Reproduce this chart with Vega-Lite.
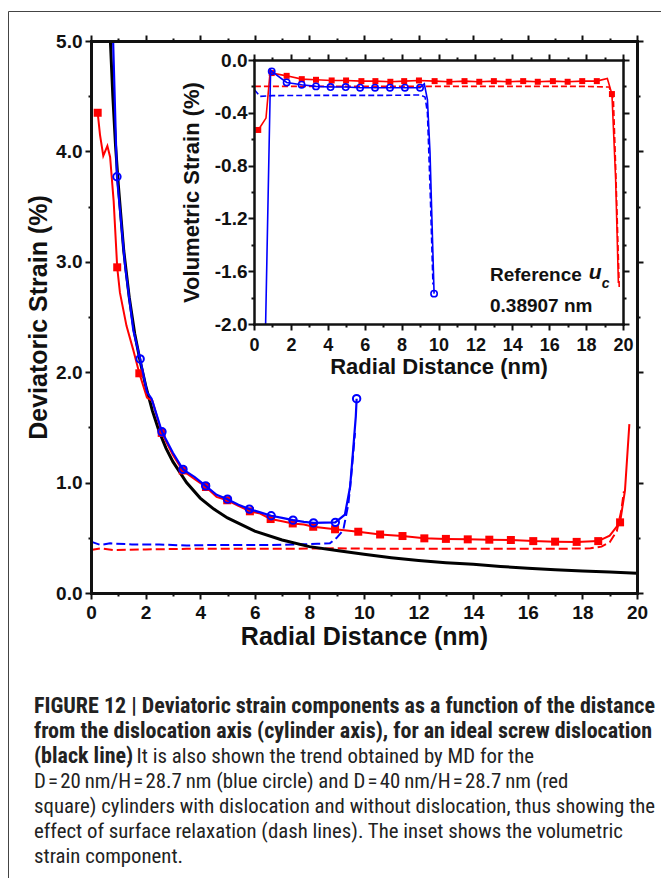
{
  "$schema": "https://vega.github.io/schema/vega-lite/v6.json",
  "width": 656,
  "height": 870,
  "autosize": {"type": "none"},
  "padding": {"left": 8, "top": 11, "right": -3, "bottom": -3},
  "background": "white",
  "config": {
    "view": {"stroke": "#444", "strokeWidth": 1},
    "axis": {
      "grid": false, "domainColor": "#111", "tickColor": "#111", "labelColor": "#111", "titleColor": "#111",
      "labelFont": "Liberation Sans", "titleFont": "Liberation Sans", "labelFontWeight": "bold", "titleFontWeight": "bold",
      "domainCap": "square", "labelFlush": false, "labelOverlap": false, "tickWidth": 2
    }
  },
  "title": {
    "text": ["FIGURE 12 | Deviatoric strain components as a function of the distance", "from the dislocation axis (cylinder axis), for an ideal screw dislocation", "(black line)"],
    "subtitle": ["\u200b\u2003\u2003\u2003\u2003\u2002\u2009\u2009\u200a. It is also shown the trend obtained by MD for the", "D\u200a=\u200a20\u2009nm/H\u200a=\u200a28.7\u2009nm (blue circle) and D\u200a=\u200a40\u2009nm/H\u200a=\u200a28.7\u2009nm (red", "square) cylinders with dislocation and without dislocation, thus showing the", "effect of surface relaxation (dash lines). The inset shows the volumetric", "strain component."],
    "orient": "top", "anchor": "start", "frame": "group", "offset": -857, "dx": 26,
    "font": "Liberation Sans Narrow, Roboto Condensed, DejaVu Sans Condensed, Liberation Sans", "fontSize": 22, "fontWeight": "bold", "color": "#222", "lineHeight": 25,
    "subtitleFont": "Liberation Sans Narrow, Roboto Condensed, DejaVu Sans Condensed, Liberation Sans", "subtitleFontSize": 20.8, "subtitleFontWeight": "normal", "subtitleColor": "#222", "subtitleLineHeight": 25, "subtitlePadding": -21
  },
  "datasets": {
    "main": [
      {"s":"k","x":0.71,"y":5.0},{"s":"k","x":0.8,"y":4.5},{"s":"k","x":0.9,"y":4.05},{"s":"k","x":1.0,"y":3.7},{"s":"k","x":1.2,"y":3.1},{"s":"k","x":1.4,"y":2.68},{"s":"k","x":1.6,"y":2.35},{"s":"k","x":1.8,"y":2.1},{"s":"k","x":2.0,"y":1.88},{"s":"k","x":2.25,"y":1.65},{"s":"k","x":2.5,"y":1.46},{"s":"k","x":2.75,"y":1.31},{"s":"k","x":3.0,"y":1.19},{"s":"k","x":3.5,"y":1.0},{"s":"k","x":4.0,"y":0.86},{"s":"k","x":4.5,"y":0.76},{"s":"k","x":5.0,"y":0.68},{"s":"k","x":6.0,"y":0.56},{"s":"k","x":7.0,"y":0.48},{"s":"k","x":8.0,"y":0.42},{"s":"k","x":9.0,"y":0.385},{"s":"k","x":10.0,"y":0.35},{"s":"k","x":11.0,"y":0.32},{"s":"k","x":12.0,"y":0.295},{"s":"k","x":13.0,"y":0.275},{"s":"k","x":14.0,"y":0.26},{"s":"k","x":15.0,"y":0.24},{"s":"k","x":16.0,"y":0.225},{"s":"k","x":17.0,"y":0.21},{"s":"k","x":18.0,"y":0.2},{"s":"k","x":19.0,"y":0.19},{"s":"k","x":20.0,"y":0.18},

      {"s":"b","x":0.81,"y":5.0},{"s":"b","x":0.95,"y":3.77,"m":1},{"s":"b","x":1.25,"y":2.96},{"s":"b","x":1.55,"y":2.38},{"s":"b","x":1.8,"y":2.12,"m":1},{"s":"b","x":2.05,"y":1.82},{"s":"b","x":2.22,"y":1.76},{"s":"b","x":2.6,"y":1.46,"m":1},{"s":"b","x":3.0,"y":1.27},{"s":"b","x":3.37,"y":1.12,"m":1},{"s":"b","x":3.8,"y":1.05},{"s":"b","x":4.2,"y":0.97,"m":1},{"s":"b","x":4.6,"y":0.89},{"s":"b","x":5.0,"y":0.85,"m":1},{"s":"b","x":5.4,"y":0.8},{"s":"b","x":5.8,"y":0.76,"m":1},{"s":"b","x":6.2,"y":0.73},{"s":"b","x":6.6,"y":0.7,"m":1},{"s":"b","x":7.0,"y":0.68},{"s":"b","x":7.4,"y":0.66,"m":1},{"s":"b","x":7.8,"y":0.645},{"s":"b","x":8.15,"y":0.635,"m":1},{"s":"b","x":8.95,"y":0.64,"m":1},{"s":"b","x":9.3,"y":0.71},{"s":"b","x":9.49,"y":0.96},{"s":"b","x":9.61,"y":1.32},{"s":"b","x":9.7,"y":1.6},{"s":"b","x":9.73,"y":1.76,"m":1},

      {"s":"r","x":0.245,"y":4.35,"m":1},{"s":"r","x":0.33,"y":4.15},{"s":"r","x":0.45,"y":3.96},{"s":"r","x":0.6,"y":4.05},{"s":"r","x":0.7,"y":3.95},{"s":"r","x":0.83,"y":3.55},{"s":"r","x":0.96,"y":2.95,"m":1},{"s":"r","x":1.06,"y":2.72},{"s":"r","x":1.3,"y":2.42},{"s":"r","x":1.55,"y":2.2},{"s":"r","x":1.77,"y":1.99,"m":1},{"s":"r","x":2.05,"y":1.77},{"s":"r","x":2.25,"y":1.74},{"s":"r","x":2.59,"y":1.45,"m":1},{"s":"r","x":3.0,"y":1.25},{"s":"r","x":3.36,"y":1.11,"m":1},{"s":"r","x":3.8,"y":1.03},{"s":"r","x":4.21,"y":0.96,"m":1},{"s":"r","x":4.6,"y":0.87},{"s":"r","x":4.99,"y":0.84,"m":1},{"s":"r","x":5.4,"y":0.79},{"s":"r","x":5.82,"y":0.74,"m":1},{"s":"r","x":6.2,"y":0.72},{"s":"r","x":6.58,"y":0.67,"m":1},{"s":"r","x":7.0,"y":0.65},{"s":"r","x":7.39,"y":0.63,"m":1},{"s":"r","x":7.8,"y":0.62},{"s":"r","x":8.14,"y":0.6,"m":1},{"s":"r","x":8.94,"y":0.577,"m":1},{"s":"r","x":9.79,"y":0.555,"m":1},{"s":"r","x":10.59,"y":0.53,"m":1},{"s":"r","x":11.41,"y":0.516,"m":1},{"s":"r","x":12.21,"y":0.495,"m":1},{"s":"r","x":13.0,"y":0.49,"m":1},{"s":"r","x":13.8,"y":0.486,"m":1},{"s":"r","x":14.59,"y":0.483,"m":1},{"s":"r","x":15.38,"y":0.48,"m":1},{"s":"r","x":16.2,"y":0.47,"m":1},{"s":"r","x":17.0,"y":0.465,"m":1},{"s":"r","x":17.79,"y":0.463,"m":1},{"s":"r","x":18.58,"y":0.47,"m":1},{"s":"r","x":19.0,"y":0.52},{"s":"r","x":19.38,"y":0.64,"m":1},{"s":"r","x":19.56,"y":0.93},{"s":"r","x":19.72,"y":1.53},

      {"s":"bd","x":0.0,"y":0.465},{"s":"bd","x":0.35,"y":0.435},{"s":"bd","x":0.7,"y":0.45},{"s":"bd","x":1.5,"y":0.44},{"s":"bd","x":2.5,"y":0.44},{"s":"bd","x":3.5,"y":0.43},{"s":"bd","x":4.5,"y":0.435},{"s":"bd","x":5.5,"y":0.435},{"s":"bd","x":6.5,"y":0.435},{"s":"bd","x":7.5,"y":0.44},{"s":"bd","x":8.3,"y":0.445},{"s":"bd","x":8.75,"y":0.45},{"s":"bd","x":9.0,"y":0.5},{"s":"bd","x":9.24,"y":0.57},{"s":"bd","x":9.43,"y":0.81},{"s":"bd","x":9.55,"y":1.11},{"s":"bd","x":9.67,"y":1.45},

      {"s":"rd","x":0.0,"y":0.39},{"s":"rd","x":0.35,"y":0.405},{"s":"rd","x":0.8,"y":0.39},{"s":"rd","x":2.0,"y":0.395},{"s":"rd","x":3.5,"y":0.4},{"s":"rd","x":5.0,"y":0.4},{"s":"rd","x":7.0,"y":0.4},{"s":"rd","x":9.0,"y":0.405},{"s":"rd","x":11.0,"y":0.4},{"s":"rd","x":13.0,"y":0.4},{"s":"rd","x":15.0,"y":0.4},{"s":"rd","x":17.0,"y":0.4},{"s":"rd","x":18.3,"y":0.405},{"s":"rd","x":18.7,"y":0.42},{"s":"rd","x":19.0,"y":0.46},{"s":"rd","x":19.26,"y":0.56},{"s":"rd","x":19.42,"y":0.74},{"s":"rd","x":19.52,"y":0.92}
    ],
    "inset": [
      {"s":"r","x":0.23,"y":-0.53,"m":1},{"s":"r","x":0.65,"y":-0.44},{"s":"r","x":0.88,"y":-0.08},{"s":"r","x":0.96,"y":-0.099,"m":1},{"s":"r","x":1.77,"y":-0.12,"m":1},{"s":"r","x":2.59,"y":-0.145,"m":1},{"s":"r","x":3.36,"y":-0.15,"m":1},{"s":"r","x":4.21,"y":-0.155,"m":1},{"s":"r","x":4.99,"y":-0.155,"m":1},{"s":"r","x":5.82,"y":-0.16,"m":1},{"s":"r","x":6.58,"y":-0.16,"m":1},{"s":"r","x":7.39,"y":-0.165,"m":1},{"s":"r","x":8.14,"y":-0.16,"m":1},{"s":"r","x":8.94,"y":-0.155,"m":1},{"s":"r","x":9.79,"y":-0.16,"m":1},{"s":"r","x":10.59,"y":-0.165,"m":1},{"s":"r","x":11.41,"y":-0.16,"m":1},{"s":"r","x":12.21,"y":-0.165,"m":1},{"s":"r","x":13.0,"y":-0.16,"m":1},{"s":"r","x":13.8,"y":-0.165,"m":1},{"s":"r","x":14.59,"y":-0.16,"m":1},{"s":"r","x":15.38,"y":-0.165,"m":1},{"s":"r","x":16.2,"y":-0.16,"m":1},{"s":"r","x":17.0,"y":-0.165,"m":1},{"s":"r","x":17.79,"y":-0.16,"m":1},{"s":"r","x":18.58,"y":-0.16,"m":1},{"s":"r","x":19.15,"y":-0.14},{"s":"r","x":19.4,"y":-0.258,"m":1},{"s":"r","x":19.6,"y":-0.9},{"s":"r","x":19.75,"y":-1.69},

      {"s":"rd","x":0.05,"y":-0.2},{"s":"rd","x":1.0,"y":-0.2},{"s":"rd","x":3.0,"y":-0.2},{"s":"rd","x":6.0,"y":-0.2},{"s":"rd","x":9.0,"y":-0.2},{"s":"rd","x":12.0,"y":-0.2},{"s":"rd","x":15.0,"y":-0.2},{"s":"rd","x":18.0,"y":-0.2},{"s":"rd","x":19.25,"y":-0.205},{"s":"rd","x":19.48,"y":-0.3},{"s":"rd","x":19.6,"y":-0.8},{"s":"rd","x":19.8,"y":-1.74},

      {"s":"b","x":0.63,"y":-2.0},{"s":"b","x":0.9,"y":-0.075},{"s":"b","x":0.96,"y":-0.086,"m":1},{"s":"b","x":1.77,"y":-0.17,"m":1},{"s":"b","x":2.58,"y":-0.187,"m":1},{"s":"b","x":3.36,"y":-0.2,"m":1},{"s":"b","x":4.15,"y":-0.205,"m":1},{"s":"b","x":4.97,"y":-0.205,"m":1},{"s":"b","x":5.75,"y":-0.21,"m":1},{"s":"b","x":6.56,"y":-0.21,"m":1},{"s":"b","x":7.37,"y":-0.21,"m":1},{"s":"b","x":8.18,"y":-0.21,"m":1},{"s":"b","x":9.0,"y":-0.21,"m":1},{"s":"b","x":9.23,"y":-0.18},{"s":"b","x":9.4,"y":-0.3},{"s":"b","x":9.54,"y":-0.7},{"s":"b","x":9.76,"y":-1.77,"m":1},

      {"s":"bd","x":0.02,"y":-0.225},{"s":"bd","x":0.33,"y":-0.276},{"s":"bd","x":1.0,"y":-0.27},{"s":"bd","x":3.0,"y":-0.268},{"s":"bd","x":5.0,"y":-0.268},{"s":"bd","x":7.0,"y":-0.268},{"s":"bd","x":9.0,"y":-0.265},{"s":"bd","x":9.27,"y":-0.28},{"s":"bd","x":9.4,"y":-0.4},{"s":"bd","x":9.55,"y":-1.0},{"s":"bd","x":9.7,"y":-1.7}
    ],
    "notes": [
      {"lx":12.79,"ly":-1.628,"t":"Reference","k":"n"},
      {"lx":12.79,"ly":-1.864,"t":"0.38907 nm","k":"n"},
      {"lx":18.15,"ly":-1.615,"t":"u","k":"u"},
      {"lx":18.85,"ly":-1.70,"t":"c","k":"c"}
    ]
  },
  "resolve": {"scale": {"x": "independent", "y": "independent"}, "axis": {"x": "independent", "y": "independent"}},
  "layer": [
    {
      "data": {"name": "main"}, "transform": [{"filter": "datum.s === 'rd'"}],
      "mark": {"type": "line", "color": "#ff0000", "strokeWidth": 2, "strokeDash": [9, 4]},
      "encoding": {
        "x": {"field": "x", "type": "quantitative", "scale": {"domain": [0, 20], "range": [83, 629], "nice": false, "zero": false},
              "axis": {"orient": "top", "offset": -30, "values": [0,2,4,6,8,10,12,14,16,18,20], "labels": false, "title": null, "tickSize": 6, "domainWidth": 3, "zindex": 1}},
        "y": {"field": "y", "type": "quantitative", "scale": {"domain": [0, 5], "range": [582, 30], "nice": false, "zero": false},
              "axis": {"orient": "right", "offset": -27, "values": [0,1,2,3,4,5], "labels": false, "title": null, "tickSize": 6, "domainWidth": 3, "zindex": 1}}
      }
    },
    {
      "data": {"name": "main"}, "transform": [{"filter": "datum.s === 'bd'"}],
      "mark": {"type": "line", "color": "#0000ff", "strokeWidth": 2, "strokeDash": [9, 4]},
      "encoding": {
        "x": {"field": "x", "type": "quantitative", "scale": {"domain": [0, 20], "range": [83, 629], "nice": false, "zero": false},
              "axis": {"orient": "top", "offset": -30, "values": [1,3,5,7,9,11,13,15,17,19], "labels": false, "domain": false, "title": null, "tickSize": 3, "zindex": 1}},
        "y": {"field": "y", "type": "quantitative", "scale": {"domain": [0, 5], "range": [582, 30], "nice": false, "zero": false},
              "axis": {"orient": "right", "offset": -27, "values": [0.5,1.5,2.5,3.5,4.5], "labels": false, "domain": false, "title": null, "tickSize": 3, "zindex": 1}}
      }
    },
    {
      "data": {"name": "main"}, "transform": [{"filter": "datum.s === 'k'"}],
      "mark": {"type": "line", "color": "#000000", "strokeWidth": 3},
      "encoding": {
        "x": {"field": "x", "type": "quantitative", "scale": {"domain": [0, 20], "range": [83, 629], "nice": false, "zero": false},
              "axis": {"orient": "bottom", "offset": -288, "values": [0,2,4,6,8,10,12,14,16,18,20], "format": "d", "labelFontSize": 19, "labelPadding": 4, "tickSize": 6, "domainWidth": 3, "title": "Radial Distance (nm)", "titleFontSize": 25, "titlePadding": 2, "zindex": 1}},
        "y": {"field": "y", "type": "quantitative", "scale": {"domain": [0, 5], "range": [582, 30], "nice": false, "zero": false},
              "axis": {"orient": "left", "offset": -83, "values": [0,1,2,3,4,5], "format": ".1f", "labelFontSize": 19, "labelPadding": 3, "tickSize": 6, "domainWidth": 3, "title": "Deviatoric Strain (%)", "titleFontSize": 25, "titlePadding": 4, "zindex": 1}}
      }
    },
    {
      "data": {"name": "main"}, "transform": [{"filter": "datum.s === 'r'"}],
      "mark": {"type": "line", "color": "#ff0000", "strokeWidth": 2},
      "encoding": {
        "x": {"field": "x", "type": "quantitative", "scale": {"domain": [0, 20], "range": [83, 629], "nice": false, "zero": false},
              "axis": {"orient": "bottom", "offset": -288, "values": [1,3,5,7,9,11,13,15,17,19], "labels": false, "domain": false, "title": null, "tickSize": 3, "zindex": 1}},
        "y": {"field": "y", "type": "quantitative", "scale": {"domain": [0, 5], "range": [582, 30], "nice": false, "zero": false},
              "axis": {"orient": "left", "offset": -83, "values": [0.5,1.5,2.5,3.5,4.5], "labels": false, "domain": false, "title": null, "tickSize": 3, "zindex": 1}}
      }
    },
    {
      "data": {"name": "main"}, "transform": [{"filter": "datum.s === 'r' && datum.m === 1"}],
      "mark": {"type": "point", "shape": "square", "filled": true, "size": 64, "color": "#ff0000", "opacity": 1},
      "encoding": {
        "x": {"field": "x", "type": "quantitative", "scale": {"domain": [0, 20], "range": [83, 629], "nice": false, "zero": false}, "axis": null},
        "y": {"field": "y", "type": "quantitative", "scale": {"domain": [0, 5], "range": [582, 30], "nice": false, "zero": false}, "axis": null}
      }
    },
    {
      "data": {"name": "main"}, "transform": [{"filter": "datum.s === 'b'"}],
      "mark": {"type": "line", "color": "#0000ff", "strokeWidth": 2.2},
      "encoding": {
        "x": {"field": "x", "type": "quantitative", "scale": {"domain": [0, 20], "range": [83, 629], "nice": false, "zero": false}, "axis": null},
        "y": {"field": "y", "type": "quantitative", "scale": {"domain": [0, 5], "range": [582, 30], "nice": false, "zero": false}, "axis": null}
      }
    },
    {
      "data": {"name": "main"}, "transform": [{"filter": "datum.s === 'b' && datum.m === 1"}],
      "mark": {"type": "point", "shape": "circle", "filled": false, "size": 55, "strokeWidth": 2, "color": "#0000ff", "opacity": 1},
      "encoding": {
        "x": {"field": "x", "type": "quantitative", "scale": {"domain": [0, 20], "range": [83, 629], "nice": false, "zero": false}, "axis": null},
        "y": {"field": "y", "type": "quantitative", "scale": {"domain": [0, 5], "range": [582, 30], "nice": false, "zero": false}, "axis": null}
      }
    },
    {
      "data": {"name": "inset"}, "transform": [{"filter": "datum.s === 'rd'"}],
      "mark": {"type": "line", "color": "#ff0000", "strokeWidth": 1.6, "strokeDash": [6, 3]},
      "encoding": {
        "x": {"field": "x", "type": "quantitative", "scale": {"domain": [0, 20], "range": [246, 615], "nice": false, "zero": false},
              "axis": {"orient": "top", "offset": -49, "values": [0,2,4,6,8,10,12,14,16,18,20], "labels": false, "title": null, "tickSize": 6, "domainWidth": 2.5, "zindex": 1}},
        "y": {"field": "y", "type": "quantitative", "scale": {"domain": [-2, 0], "range": [313, 49], "nice": false, "zero": false},
              "axis": {"orient": "right", "offset": -41, "values": [0,-0.4,-0.8,-1.2,-1.6,-2.0], "labels": false, "title": null, "tickSize": 6, "domainWidth": 2.5, "zindex": 1}}
      }
    },
    {
      "data": {"name": "inset"}, "transform": [{"filter": "datum.s === 'bd'"}],
      "mark": {"type": "line", "color": "#0000ff", "strokeWidth": 1.6, "strokeDash": [6, 3]},
      "encoding": {
        "x": {"field": "x", "type": "quantitative", "scale": {"domain": [0, 20], "range": [246, 615], "nice": false, "zero": false},
              "axis": {"orient": "top", "offset": -49, "values": [1,3,5,7,9,11,13,15,17,19], "labels": false, "domain": false, "title": null, "tickSize": 3, "zindex": 1}},
        "y": {"field": "y", "type": "quantitative", "scale": {"domain": [-2, 0], "range": [313, 49], "nice": false, "zero": false},
              "axis": {"orient": "right", "offset": -41, "values": [-0.2,-0.6,-1.0,-1.4,-1.8], "labels": false, "domain": false, "title": null, "tickSize": 3, "zindex": 1}}
      }
    },
    {
      "data": {"name": "inset"}, "transform": [{"filter": "datum.s === 'r'"}],
      "mark": {"type": "line", "color": "#ff0000", "strokeWidth": 1.6},
      "encoding": {
        "x": {"field": "x", "type": "quantitative", "scale": {"domain": [0, 20], "range": [246, 615], "nice": false, "zero": false},
              "axis": {"orient": "bottom", "offset": -557, "values": [0,2,4,6,8,10,12,14,16,18,20], "format": "d", "labelFontSize": 18, "labelPadding": 6, "tickSize": 6, "domainWidth": 2.5, "title": "Radial Distance (nm)", "titleFontSize": 22, "titlePadding": 2, "zindex": 1}},
        "y": {"field": "y", "type": "quantitative", "scale": {"domain": [-2, 0], "range": [313, 49], "nice": false, "zero": false},
              "axis": {"orient": "left", "offset": -246, "values": [0,-0.4,-0.8,-1.2,-1.6,-2.0], "labelExpr": "replace(format(datum.value, '.1f'), '\u2212', '-')", "labelFontSize": 19, "labelPadding": 1, "tickSize": 6, "domainWidth": 2.5, "title": "Volumetric Strain (%)", "titleFontSize": 22, "titlePadding": 11, "zindex": 1}}
      }
    },
    {
      "data": {"name": "inset"}, "transform": [{"filter": "datum.s === 'r' && datum.m === 1"}],
      "mark": {"type": "point", "shape": "square", "filled": true, "size": 36, "color": "#ff0000", "opacity": 1},
      "encoding": {
        "x": {"field": "x", "type": "quantitative", "scale": {"domain": [0, 20], "range": [246, 615], "nice": false, "zero": false},
              "axis": {"orient": "bottom", "offset": -557, "values": [1,3,5,7,9,11,13,15,17,19], "labels": false, "domain": false, "title": null, "tickSize": 3, "zindex": 1}},
        "y": {"field": "y", "type": "quantitative", "scale": {"domain": [-2, 0], "range": [313, 49], "nice": false, "zero": false},
              "axis": {"orient": "left", "offset": -246, "values": [-0.2,-0.6,-1.0,-1.4,-1.8], "labels": false, "domain": false, "title": null, "tickSize": 3, "zindex": 1}}
      }
    },
    {
      "data": {"name": "inset"}, "transform": [{"filter": "datum.s === 'b'"}],
      "mark": {"type": "line", "color": "#0000ff", "strokeWidth": 1.6},
      "encoding": {
        "x": {"field": "x", "type": "quantitative", "scale": {"domain": [0, 20], "range": [246, 615], "nice": false, "zero": false}, "axis": null},
        "y": {"field": "y", "type": "quantitative", "scale": {"domain": [-2, 0], "range": [313, 49], "nice": false, "zero": false}, "axis": null}
      }
    },
    {
      "data": {"name": "inset"}, "transform": [{"filter": "datum.s === 'b' && datum.m === 1"}],
      "mark": {"type": "point", "shape": "circle", "filled": false, "size": 40, "strokeWidth": 1.6, "color": "#0000ff", "opacity": 1},
      "encoding": {
        "x": {"field": "x", "type": "quantitative", "scale": {"domain": [0, 20], "range": [246, 615], "nice": false, "zero": false}, "axis": null},
        "y": {"field": "y", "type": "quantitative", "scale": {"domain": [-2, 0], "range": [313, 49], "nice": false, "zero": false}, "axis": null}
      }
    },
    {
      "data": {"name": "notes"}, "transform": [{"filter": "datum.k === 'n'"}],
      "mark": {"type": "text", "align": "left", "baseline": "middle", "font": "Liberation Sans", "fontWeight": "bold", "fontSize": 19, "color": "#111"},
      "encoding": {
        "x": {"field": "lx", "type": "quantitative", "scale": {"domain": [0, 20], "range": [246, 615], "nice": false, "zero": false}, "axis": null},
        "y": {"field": "ly", "type": "quantitative", "scale": {"domain": [-2, 0], "range": [313, 49], "nice": false, "zero": false}, "axis": null},
        "text": {"field": "t"}
      }
    },
    {
      "data": {"name": "notes"}, "transform": [{"filter": "datum.k === 'u'"}],
      "mark": {"type": "text", "align": "left", "baseline": "middle", "font": "Liberation Sans", "fontWeight": "bold", "fontStyle": "italic", "fontSize": 21, "color": "#111"},
      "encoding": {
        "x": {"field": "lx", "type": "quantitative", "scale": {"domain": [0, 20], "range": [246, 615], "nice": false, "zero": false}, "axis": null},
        "y": {"field": "ly", "type": "quantitative", "scale": {"domain": [-2, 0], "range": [313, 49], "nice": false, "zero": false}, "axis": null},
        "text": {"field": "t"}
      }
    },
    {
      "data": {"name": "notes"}, "transform": [{"filter": "datum.k === 'c'"}],
      "mark": {"type": "text", "align": "left", "baseline": "middle", "font": "Liberation Sans", "fontWeight": "bold", "fontStyle": "italic", "fontSize": 14, "color": "#111"},
      "encoding": {
        "x": {"field": "lx", "type": "quantitative", "scale": {"domain": [0, 20], "range": [246, 615], "nice": false, "zero": false}, "axis": null},
        "y": {"field": "ly", "type": "quantitative", "scale": {"domain": [-2, 0], "range": [313, 49], "nice": false, "zero": false}, "axis": null},
        "text": {"field": "t"}
      }
    }
  ]
}
